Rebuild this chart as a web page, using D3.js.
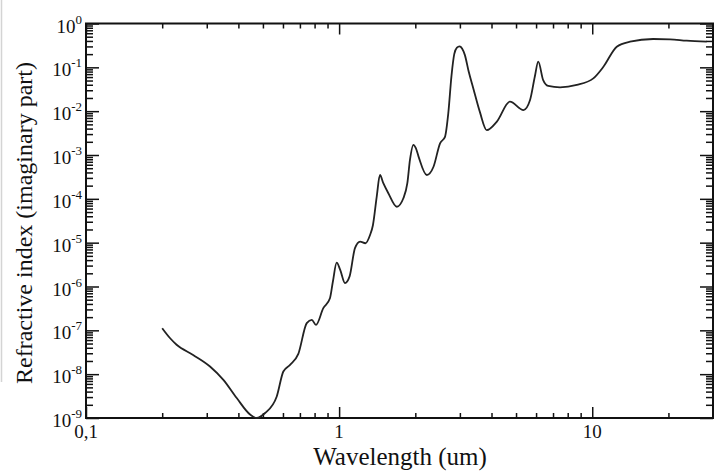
<!DOCTYPE html>
<html>
<head>
<meta charset="utf-8">
<script src="https://cdn.jsdelivr.net/npm/d3@7"></script>
<style>
  body { margin: 0; background: #fff; }
  text { font-family: "Liberation Serif", "Times New Roman", serif; fill: #111; }
</style>
</head>
<body>
<div class="chart"></div>
<script>
// wavelength (um) and imaginary part of refractive index
var wavelength = [
  0.200, 0.215, 0.228, 0.265, 0.309, 0.349, 0.394, 0.445, 0.472, 0.510,
  0.567, 0.602, 0.640, 0.690, 0.745, 0.780, 0.810, 0.866, 0.920, 0.945,
  0.978, 1.010, 1.055, 1.100, 1.155, 1.210, 1.270, 1.325, 1.360, 1.408,
  1.450, 1.495, 1.565, 1.690, 1.794, 1.860, 1.905, 1.965, 2.010, 2.060,
  2.220, 2.360, 2.505, 2.620, 2.700, 2.780, 2.850, 2.920, 2.990, 3.060,
  3.140, 3.250, 3.390, 3.600, 3.830, 4.200, 4.730, 5.350, 5.680, 5.930,
  6.120, 6.400, 6.700, 7.460, 8.690, 10.10, 11.07, 12.50, 14.10, 17.40,
  20.30, 23.60, 28.30
];
var kImag = [
  1.12e-7, 6.6e-8, 4.7e-8, 2.75e-8, 1.5e-8, 7.4e-9, 2.85e-9, 1.2e-9, 1.0e-9, 1.3e-9,
  3.1e-9, 1.15e-8, 1.63e-8, 2.9e-8, 1.46e-7, 1.73e-7, 1.33e-7, 3.2e-7, 5.4e-7, 1.3e-6,
  3.5e-6, 2.4e-6, 1.2e-6, 1.7e-6, 7.5e-6, 1.06e-5, 9.7e-6, 1.5e-5, 2.5e-5, 1.12e-4,
  3.5e-4, 2.27e-4, 1.34e-4, 6.6e-5, 1.03e-4, 2.27e-4, 7.7e-4, 1.7e-3, 1.43e-3, 9.2e-4,
  3.5e-4, 5.4e-4, 1.85e-3, 2.6e-3, 9.0e-3, 6.5e-2, 0.20, 0.28, 0.30, 0.27,
  0.19, 0.08, 0.033, 0.0095, 3.7e-3, 5.8e-3, 1.65e-2, 1.06e-2, 1.8e-2, 6.1e-2,
  0.135, 5.1e-2, 3.76e-2, 3.5e-2, 3.97e-2, 5.6e-2, 0.103, 0.296, 0.385, 0.443,
  0.436, 0.405, 0.385
];

// ticks
var xMajor = [0.1, 1, 10];
var xTickLabels = ["0,1", "1", "10"];
var xMinor = [0.2, 0.3, 0.4, 0.5, 0.6, 0.7, 0.8, 0.9, 2, 3, 4, 5, 6, 7, 8, 9, 20];
var yExponents = [0, -1, -2, -3, -4, -5, -6, -7, -8, -9];

var svgWidth = 718;
var svgHeight = 476;

// plot box (don't call these top/left, window.top is read-only)
var box = { left: 86, right: 713, top: 23.5, bottom: 418 };

var svg = d3
  .select(".chart")
  .append("svg")
  .attr("width", svgWidth)
  .attr("height", svgHeight);

svg.append("rect")
  .attr("width", svgWidth)
  .attr("height", svgHeight)
  .attr("fill", "#fff");

// faint border line at the very left of the scan
svg.append("line")
  .attr("x1", 1.5).attr("x2", 1.5)
  .attr("y1", 0).attr("y2", 382)
  .attr("stroke", "#d4d4d4")
  .attr("stroke-width", 1.5);

var x = d3.scaleLog().domain([0.1, 30]).range([box.left, box.right]);
var y = d3.scaleLog().domain([1e-9, 1]).range([box.bottom, box.top]);

var yMajor = yExponents.map((e) => Math.pow(10, e));
var yMinor = [];
yExponents.slice(1).forEach(function (e) {
  for (var m = 2; m <= 9; m++) yMinor.push(m * Math.pow(10, e));
});

function tickAxis(axis, transform) {
  var g = svg.append("g").attr("transform", transform).call(axis);
  g.select(".domain").remove();
  g.selectAll("line").attr("stroke", "#111").attr("stroke-width", 1.5);
  g.selectAll("text").remove();
  return g;
}

// x ticks, bottom and top, pointing inward
tickAxis(d3.axisBottom(x).tickValues(xMajor).tickSizeInner(-11).tickSizeOuter(0), `translate(0,${box.bottom})`);
tickAxis(d3.axisBottom(x).tickValues(xMinor).tickSizeInner(-5).tickSizeOuter(0), `translate(0,${box.bottom})`);
tickAxis(d3.axisTop(x).tickValues(xMajor).tickSizeInner(-11).tickSizeOuter(0), `translate(0,${box.top})`);
tickAxis(d3.axisTop(x).tickValues(xMinor).tickSizeInner(-5).tickSizeOuter(0), `translate(0,${box.top})`);

// y ticks, left and right
tickAxis(d3.axisLeft(y).tickValues(yMajor).tickSizeInner(-13).tickSizeOuter(0), `translate(${box.left},0)`);
tickAxis(d3.axisLeft(y).tickValues(yMinor).tickSizeInner(-7).tickSizeOuter(0), `translate(${box.left},0)`);
tickAxis(d3.axisRight(y).tickValues(yMajor).tickSizeInner(-13).tickSizeOuter(0), `translate(${box.right},0)`);
tickAxis(d3.axisRight(y).tickValues(yMinor).tickSizeInner(-7).tickSizeOuter(0), `translate(${box.right},0)`);

// frame
svg.append("rect")
  .attr("x", box.left)
  .attr("y", box.top)
  .attr("width", box.right - box.left)
  .attr("height", box.bottom - box.top)
  .attr("fill", "none")
  .attr("stroke", "#111")
  .attr("stroke-width", 2);

// x tick labels
svg.selectAll(".xlab")
  .data(xMajor)
  .enter()
  .append("text")
  .attr("class", "xlab")
  .attr("x", (d) => x(d))
  .attr("y", 438)
  .attr("text-anchor", "middle")
  .style("font-size", "19px")
  .text((d, i) => xTickLabels[i]);

// y tick labels 10^n
var ylab = svg.selectAll(".ylab")
  .data(yExponents)
  .enter()
  .append("text")
  .attr("class", "ylab")
  .attr("x", 82)
  .attr("y", (d) => y(Math.pow(10, d)) + 9)
  .attr("text-anchor", "end")
  .style("font-size", "19px");
ylab.append("tspan").text("10");
ylab.append("tspan")
  .attr("dy", -9)
  .style("font-size", "13px")
  .text((d) => String(d));

// axis titles
svg.append("text")
  .attr("x", 400)
  .attr("y", 465)
  .attr("text-anchor", "middle")
  .style("font-size", "25px")
  .text("Wavelength (um)");

svg.append("text")
  .attr("transform", "translate(32,223) rotate(-90)")
  .attr("text-anchor", "middle")
  .style("font-size", "24px")
  .text("Refractive index (imaginary part)");

// the curve
var line = d3.line()
  .x((d, i) => x(wavelength[i]))
  .y((d, i) => y(kImag[i]))
  .curve(d3.curveMonotoneX);

svg.append("path")
  .datum(kImag)
  .attr("d", line)
  .attr("fill", "none")
  .attr("stroke", "#222")
  .attr("stroke-width", 1.8);
</script>
</body>
</html>
